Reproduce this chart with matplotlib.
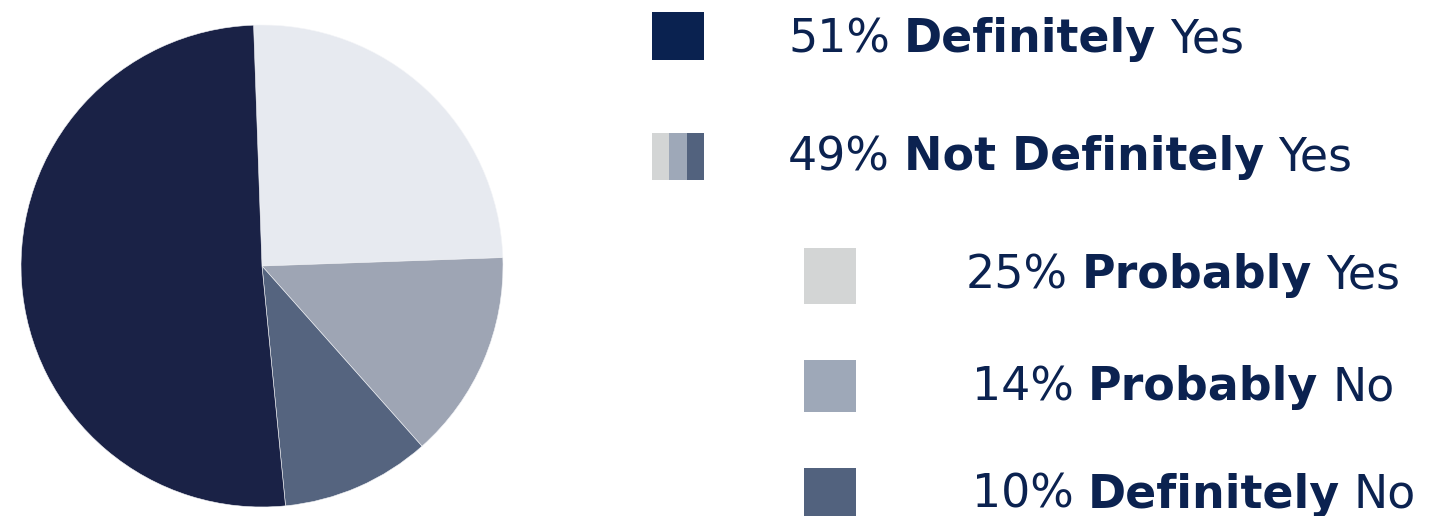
import matplotlib
matplotlib.use('agg')
import matplotlib.pyplot as plt
from matplotlib.patches import Rectangle

# -------------------- data --------------------
labels = ['Probably Yes', 'Probably No', 'Definitely No', 'Definitely Yes']
values = [25, 14, 10, 51]
pie_colors = ['#e7eaf0', '#9ea5b4', '#55647f', '#1a2246']

# legend rows: (percent, bold word, plain word)
row_pct = ['51%', '49%', '25%', '14%', '10%']
row_bold = ['Definitely', 'Not Definitely', 'Probably', 'Probably', 'Definitely']
row_plain = ['Yes', 'Yes', 'Yes', 'No', 'No']
box_colors = ['#0a2250', None, '#d3d5d5', '#9ea8b8', '#52627e']

TEXT_COLOR = '#0b2250'
FONT = 'DejaVu Sans'
FS = 33
GAP = 14  # px between words

W, H = 1435, 516
fig = plt.figure(figsize=(W / 100, H / 100), dpi=100)

# -------------------- pie --------------------
cx, cy, r = 262, 266, 241
ax = fig.add_axes([(cx - r) / W, (H - cy - r) / H, 2 * r / W, 2 * r / H])
ax.pie(values, colors=pie_colors, startangle=92, counterclock=False,
       wedgeprops=dict(linewidth=0.4, edgecolor='#f4f5f8'))
ax.set_xlim(-1, 1)
ax.set_ylim(-1, 1)
ax.axis('off')

# -------------------- legend (pixel coords) --------------------
lg = fig.add_axes([0, 0, 1, 1])
lg.set_xlim(0, W)
lg.set_ylim(H, 0)
lg.axis('off')

box_x = [652, 652, 804, 804, 804]
box_y = [12, 133, 248, 360, 468]
box_w = [52, 52, 52, 52, 52]
box_h = [48, 47, 56, 52, 52]
text_x = [788, 788, 966, 972, 972]
text_y = [40, 158, 276, 388, 495]

for i in range(len(row_pct)):
    if box_colors[i] is None:
        # striped swatch made of the three sub colours
        sw = box_w[i] / 3
        for j, c in enumerate(box_colors[2:]):
            lg.add_patch(Rectangle((box_x[i] + j * sw, box_y[i]), sw, box_h[i],
                                   facecolor=c, edgecolor='none'))
    else:
        lg.add_patch(Rectangle((box_x[i], box_y[i]), box_w[i], box_h[i],
                               facecolor=box_colors[i], edgecolor='none'))

fig.canvas.draw()
renderer = fig.canvas.get_renderer()
inv = lg.transData.inverted()

for i in range(len(row_pct)):
    x = text_x[i]
    parts = [(row_pct[i], 'normal'), (row_bold[i], 'bold'), (row_plain[i], 'normal')]
    for s, w in parts:
        t = lg.text(x, text_y[i], s, fontsize=FS, fontweight=w, family=FONT,
                    color=TEXT_COLOR, va='center', ha='left')
        bb = t.get_window_extent(renderer=renderer)
        x = inv.transform((bb.x1, bb.y0))[0] + GAP

fig.savefig('out.png', dpi=100)
